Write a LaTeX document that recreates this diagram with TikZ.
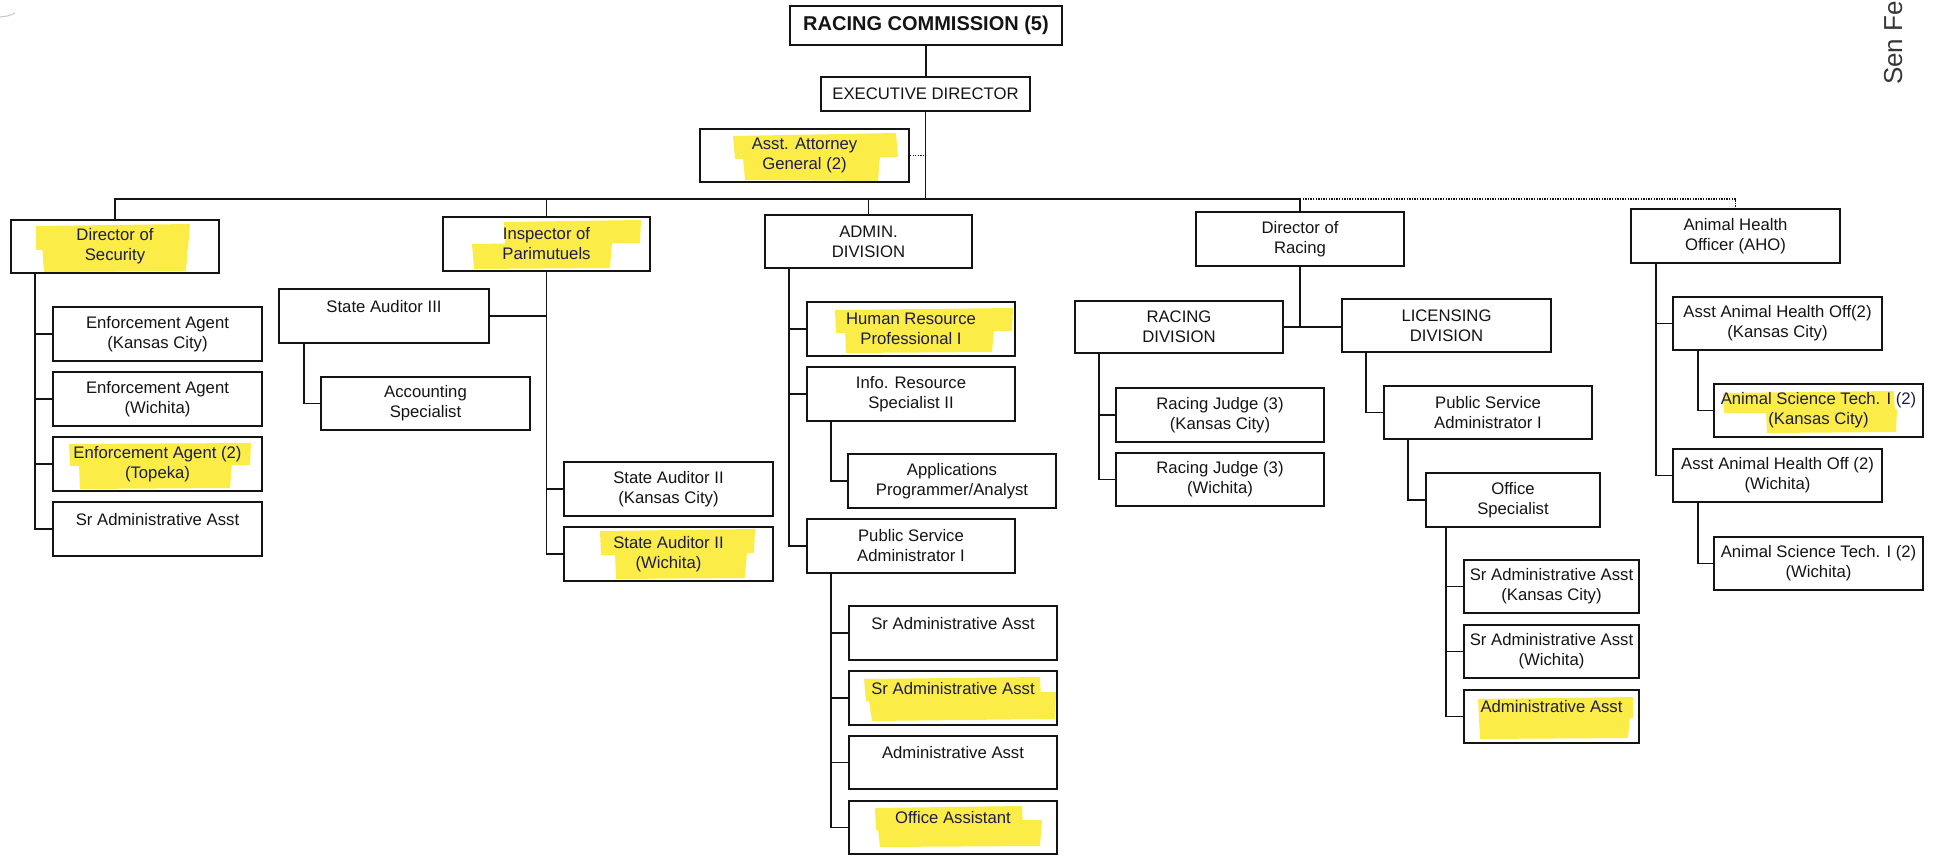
\documentclass[tikz,border=0pt]{standalone}
\usepackage{fontspec}
\setmainfont{Liberation Sans}
\definecolor{hlyellow}{RGB}{252,236,72}
\definecolor{inknavy}{RGB}{28,28,78}
\definecolor{inkblack}{RGB}{20,20,20}
\newcommand{\obox}[7][]{\node[box,minimum width={(#5-#3)*1pt},minimum height={(#6-#4)*1pt},#1] (#2) at ({(#3+#5)/2},{(#4+#6)/2}) {#7};}
\begin{document}
\begin{tikzpicture}[x=1pt,y=-1pt,
  box/.style={draw=inkblack, line width=1.8pt, inner sep=0pt, align=center, text=inkblack, font=\fontsize{16.7}{20}\selectfont},
  hltext/.style={text=inknavy},
  link/.style={draw=inkblack, line width=1.8pt},
  dotlink/.style={draw=inkblack, line width=1.4pt, dash pattern=on 1.3pt off 1.3pt},
  hl/.style={fill=hlyellow}]
\useasboundingbox (0,0) rectangle (1933,856);

% scan mark
\draw[gray!45, line width=1pt] (0,17) .. controls (6,16.5) and (11,15.5) .. (15,13);

% highlighter strokes
\fill[hl] (733,136)--(896,133)--(898,157)--(735,159)--cycle;
\fill[hl] (743,158)--(880,156)--(878,181)--(745,180)--cycle;
\fill[hl] (36,226)--(190,224)--(188,249)--(36,250)--cycle;
\fill[hl] (42,244)--(188,243)--(186,271)--(44,272)--cycle;
\fill[hl] (504,222)--(641,220)--(640,243)--(505,245)--cycle;
\fill[hl] (472,244)--(612,242)--(610,268)--(474,269)--cycle;
\fill[hl] (69,444)--(251,443)--(250,465)--(70,466)--cycle;
\fill[hl] (79,464)--(232,463)--(230,488)--(80,489)--cycle;
\fill[hl] (835,310)--(1013,308)--(1012,331)--(836,333)--cycle;
\fill[hl] (845,330)--(994,329)--(992,352)--(846,353)--cycle;
\fill[hl] (600,531)--(755,529)--(754,553)--(601,555)--cycle;
\fill[hl] (615,553)--(747,552)--(745,578)--(616,579)--cycle;
\fill[hl] (1723,393)--(1894,391)--(1895,412)--(1724,413)--cycle;
\fill[hl] (1766,410)--(1897,409)--(1896,432)--(1767,433)--cycle;
\fill[hl] (864,679)--(1040,677)--(1041,699)--(866,701)--cycle;
\fill[hl] (868,694)--(1056,692)--(1055,719)--(872,721)--cycle;
\fill[hl] (875,808)--(1022,806)--(1023,828)--(876,830)--cycle;
\fill[hl] (877,821)--(1042,820)--(1040,846)--(880,847)--cycle;
\fill[hl] (1478,699)--(1633,697)--(1633,718)--(1479,719)--cycle;
\fill[hl] (1479,717)--(1630,716)--(1628,738)--(1480,739)--cycle;

% top
\obox[font=\bfseries\fontsize{20}{24}\selectfont]{rc}{790}{6}{1062}{45}{RACING COMMISSION (5)}
\obox{ed}{821}{77}{1030}{111}{EXECUTIVE DIRECTOR}
\obox[hltext]{aag}{700}{129}{909}{182}{Asst. Attorney\\General (2)}

% second level
\obox[hltext]{dos}{11}{220}{219}{273}{Director of\\Security}
\obox[hltext]{iop}{443}{217}{650}{271}{Inspector of\\Parimutuels}
\obox{adm}{765}{215}{972}{268}{ADMIN.\\DIVISION}
\obox{dor}{1196}{212}{1404}{266}{Director of\\Racing}
\obox{aho}{1631}{209}{1840}{263}{Animal Health\\Officer (AHO)}

% security
\obox{ea1}{53}{307}{262}{361}{Enforcement Agent\\(Kansas City)}
\obox{ea2}{53}{372}{262}{426}{Enforcement Agent\\(Wichita)}
\obox[hltext]{ea3}{53}{437}{262}{491}{Enforcement Agent (2)\\(Topeka)}
\obox{sraa1}{53}{502}{262}{556}{Sr Administrative Asst\\\mbox{}}

% inspector
\obox{sa3}{279}{289}{489}{343}{State Auditor III\\\mbox{}}
\obox{acc}{321}{377}{530}{430}{Accounting\\Specialist}
\obox{sa2kc}{564}{462}{773}{516}{State Auditor II\\(Kansas City)}
\obox[hltext]{sa2w}{564}{527}{773}{581}{State Auditor II\\(Wichita)}

% admin
\obox[hltext]{hrp}{807}{302}{1015}{356}{Human Resource\\Professional I}
\obox{irs}{807}{367}{1015}{421}{Info. Resource\\Specialist II}
\obox{apa}{848}{454}{1056}{508}{Applications\\Programmer/Analyst}
\obox{psa1}{807}{519}{1015}{573}{Public Service\\Administrator I}
\obox{sraa2}{849}{606}{1057}{660}{Sr Administrative Asst\\\mbox{}}
\obox[hltext]{sraa3}{849}{671}{1057}{725}{Sr Administrative Asst\\\mbox{}}
\obox{aa1}{849}{736}{1057}{789}{Administrative Asst\\\mbox{}}
\obox[hltext]{oa}{849}{801}{1057}{854}{Office Assistant\\\mbox{}}

% racing
\obox{rd}{1075}{301}{1283}{353}{RACING\\DIVISION}
\obox{ld}{1342}{299}{1551}{352}{LICENSING\\DIVISION}
\obox{rj1}{1116}{388}{1324}{442}{Racing Judge (3)\\(Kansas City)}
\obox{rj2}{1116}{453}{1324}{506}{Racing Judge (3)\\(Wichita)}
\obox{psa2}{1384}{386}{1592}{439}{Public Service\\Administrator I}
\obox{os}{1426}{473}{1600}{527}{Office\\Specialist}
\obox{sk}{1464}{560}{1639}{613}{Sr Administrative Asst\\(Kansas City)}
\obox{sw}{1464}{625}{1639}{678}{Sr Administrative Asst\\(Wichita)}
\obox[hltext]{aa2}{1464}{690}{1639}{743}{Administrative Asst\\\mbox{}}

% animal health
\obox{aah1}{1673}{297}{1882}{350}{Asst Animal Health Off(2)\\(Kansas City)}
\obox[hltext]{ast1}{1714}{384}{1923}{437}{Animal Science Tech. I (2)\\(Kansas City)}
\obox{aah2}{1673}{449}{1882}{502}{Asst Animal Health Off (2)\\(Wichita)}
\obox{ast2}{1714}{537}{1923}{590}{Animal Science Tech. I (2)\\(Wichita)}

% side note
\node[rotate=90, anchor=base west, inner sep=0pt, text=inkblack!85, font=\fontsize{26}{30}\selectfont] (sen) at (1902,85) {Sen Fe};

% connectors: top
\coordinate (bus) at (925,199);
\draw[link] (rc.south) -- (rc.south |- ed.north);
\draw[link] (ed.south) -- (ed.south |- bus);
\draw[dotlink] (aag.east) -- (aag.east -| ed.south);
\draw[link] (dos.north) -- (dos.north |- bus) -- (dor.north |- bus) -- (dor.north);
\draw[link] (iop.north) -- (iop.north |- bus);
\draw[link] (adm.north) -- (adm.north |- bus);
\draw[dotlink] (dor.north |- bus) -| (aho.north);

% security
\coordinate (sp) at ([xshift=25pt]dos.south west);
\foreach \c in {ea1,ea2,ea3,sraa1} \draw[link] (sp) |- (\c.west);

% inspector
\foreach \c in {sa2kc,sa2w} \draw[link] (iop.south) |- (\c.west);
\draw[link] (sa3.east) -- (sa3.east -| iop.south);
\draw[link] ([xshift=26pt]sa3.south west) |- (acc.west);

% admin
\coordinate (ap) at ([xshift=25pt]adm.south west);
\foreach \c in {hrp,irs,psa1} \draw[link] (ap) |- (\c.west);
\draw[link] ([xshift=25pt]irs.south west) |- (apa.west);
\coordinate (pp) at ([xshift=25pt]psa1.south west);
\foreach \c in {sraa2,sraa3,aa1,oa} \draw[link] (pp) |- (\c.west);

% racing
\draw[link] (dor.south) -- (dor.south |- rd.east);
\draw[link] (rd.east) -- (rd.east -| ld.west);
\coordinate (rp) at ([xshift=25pt]rd.south west);
\foreach \c in {rj1,rj2} \draw[link] (rp) |- (\c.west);
\draw[link] ([xshift=25pt]ld.south west) |- (psa2.west);
\draw[link] ([xshift=25pt]psa2.south west) |- (os.west);
\coordinate (op) at ([xshift=21pt]os.south west);
\foreach \c in {sk,sw,aa2} \draw[link] (op) |- (\c.west);

% animal health
\coordinate (hp) at ([xshift=26pt]aho.south west);
\foreach \c in {aah1,aah2} \draw[link] (hp) |- (\c.west);
\draw[link] ([xshift=26pt]aah1.south west) |- (ast1.west);
\draw[link] ([xshift=26pt]aah2.south west) |- (ast2.west);
\end{tikzpicture}
\end{document}
